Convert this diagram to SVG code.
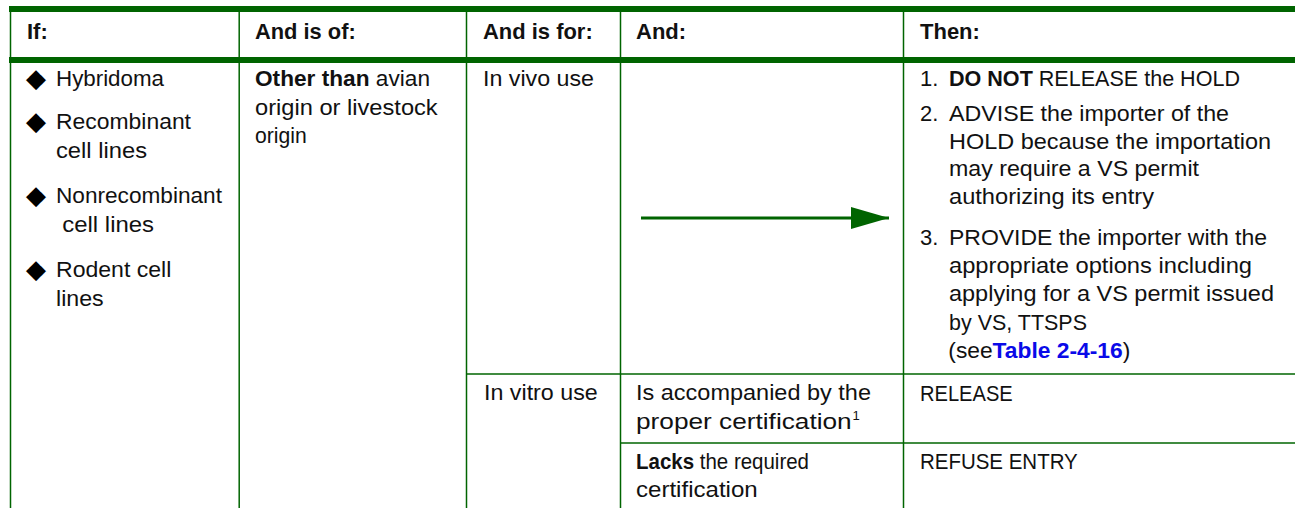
<svg xmlns="http://www.w3.org/2000/svg" width="1295" height="508" viewBox="0 0 1295 508">
<style>
text{font-family:"Liberation Sans",Arial,sans-serif;font-size:22px;fill:#111}
.h{font-weight:bold}
.b{font-weight:bold}
.lnk{font-weight:bold;fill:#0a0ae8}
.bul{font-family:"DejaVu Sans",sans-serif;font-size:26px;fill:#000}
.sup{font-size:13px}
.thick{fill:#006400}
.rule{stroke:#006400;stroke-width:1.5;fill:none}
</style>
<defs>
<marker id="ah" markerUnits="userSpaceOnUse" markerWidth="40" markerHeight="24" refX="38" refY="11" orient="auto">
<polygon points="0,0 38,11 0,22" fill="#006400"/>
</marker>
</defs>
<rect width="1295" height="508" fill="#fff"/>
<g id="grid">
<rect class="thick" x="9" y="6" width="1286" height="6"/>
<rect class="thick" x="9" y="57" width="1286" height="6"/>
<line class="rule" x1="10.5" y1="12" x2="10.5" y2="508"/>
<line class="rule" x1="239.2" y1="12" x2="239.2" y2="508"/>
<line class="rule" x1="466.5" y1="12" x2="466.5" y2="508"/>
<line class="rule" x1="620.5" y1="12" x2="620.5" y2="508"/>
<line class="rule" x1="903.5" y1="12" x2="903.5" y2="508"/>
<line class="rule" x1="466.5" y1="374" x2="1295" y2="374"/>
<line class="rule" x1="620.5" y1="443" x2="1295" y2="443"/>
</g>
<g id="header">
<text class="h" x="27" y="39">If:</text>
<text class="h" x="255" y="39" textLength="100.7" lengthAdjust="spacingAndGlyphs">And is of:</text>
<text class="h" x="483" y="39" textLength="109.7" lengthAdjust="spacingAndGlyphs">And is for:</text>
<text class="h" x="636" y="39">And:</text>
<text class="h" x="920" y="39">Then:</text>
</g>
<g id="cell-if">
<text class="bul" x="36" y="87" text-anchor="middle">◆</text>
<text x="56" y="86" textLength="108" lengthAdjust="spacingAndGlyphs">Hybridoma</text>
<text class="bul" x="36" y="130" text-anchor="middle">◆</text>
<text x="56" y="129" textLength="135" lengthAdjust="spacingAndGlyphs">Recombinant</text>
<text x="56" y="158" textLength="91" lengthAdjust="spacingAndGlyphs">cell lines</text>
<text class="bul" x="36" y="204" text-anchor="middle">◆</text>
<text x="56" y="203" textLength="166" lengthAdjust="spacingAndGlyphs">Nonrecombinant</text>
<text x="62.3" y="232" textLength="91.7" lengthAdjust="spacingAndGlyphs">cell lines</text>
<text class="bul" x="36" y="278" text-anchor="middle">◆</text>
<text x="56" y="277" textLength="115.3" lengthAdjust="spacingAndGlyphs">Rodent cell</text>
<text x="56" y="306" textLength="47.7" lengthAdjust="spacingAndGlyphs">lines</text>
</g>
<g id="cell-origin">
<text x="255" y="86" textLength="175" lengthAdjust="spacingAndGlyphs"><tspan class="b">Other than</tspan> avian</text>
<text x="255" y="115" textLength="182.7" lengthAdjust="spacingAndGlyphs">origin or livestock</text>
<text x="255" y="143" textLength="51.7" lengthAdjust="spacingAndGlyphs">origin</text>
</g>
<g id="cell-invivo">
<text x="483" y="86" textLength="111" lengthAdjust="spacingAndGlyphs">In vivo use</text>
</g>
<g id="cell-invitro">
<text x="484" y="400" textLength="113.7" lengthAdjust="spacingAndGlyphs">In vitro use</text>
</g>
<g id="cell-accompanied">
<text x="636" y="400" textLength="235" lengthAdjust="spacingAndGlyphs">Is accompanied by the</text>
<text x="636" y="428.5" textLength="215.7" lengthAdjust="spacingAndGlyphs">proper certification</text>
<text class="sup" x="852.5" y="420">1</text>
</g>
<g id="cell-lacks">
<text x="636" y="468.5" textLength="173" lengthAdjust="spacingAndGlyphs"><tspan class="b">Lacks</tspan> the required</text>
<text x="636" y="497" textLength="121.7" lengthAdjust="spacingAndGlyphs">certification</text>
</g>
<g id="cell-then-hold">
<text x="920" y="86">1.</text>
<text x="949" y="86" textLength="291" lengthAdjust="spacingAndGlyphs"><tspan class="b">DO NOT</tspan> RELEASE the HOLD</text>
<text x="920" y="121">2.</text>
<text x="949" y="121" textLength="280" lengthAdjust="spacingAndGlyphs">ADVISE the importer of the</text>
<text x="949" y="148.5" textLength="322" lengthAdjust="spacingAndGlyphs">HOLD because the importation</text>
<text x="949" y="176" textLength="250" lengthAdjust="spacingAndGlyphs">may require a VS permit</text>
<text x="949" y="203.5" textLength="205" lengthAdjust="spacingAndGlyphs">authorizing its entry</text>
<text x="920" y="244.5">3.</text>
<text x="949" y="244.5" textLength="318" lengthAdjust="spacingAndGlyphs">PROVIDE the importer with the</text>
<text x="949" y="273" textLength="303" lengthAdjust="spacingAndGlyphs">appropriate options including</text>
<text x="949" y="301" textLength="325" lengthAdjust="spacingAndGlyphs">applying for a VS permit issued</text>
<text x="949" y="329.5" textLength="138" lengthAdjust="spacingAndGlyphs">by VS, TTSPS</text>
<text x="948.3" y="358" textLength="182" lengthAdjust="spacingAndGlyphs">(see<tspan class="lnk">Table 2-4-16</tspan>)</text>
</g>
<g id="cell-release">
<text x="920" y="400.5" textLength="92.7" lengthAdjust="spacingAndGlyphs">RELEASE</text>
</g>
<g id="cell-refuse">
<text x="920" y="469" textLength="157.7" lengthAdjust="spacingAndGlyphs">REFUSE ENTRY</text>
</g>
<g id="connectors">
<line x1="641" y1="218" x2="889" y2="218" stroke="#006400" stroke-width="3" marker-end="url(#ah)"/>
</g>
</svg>
